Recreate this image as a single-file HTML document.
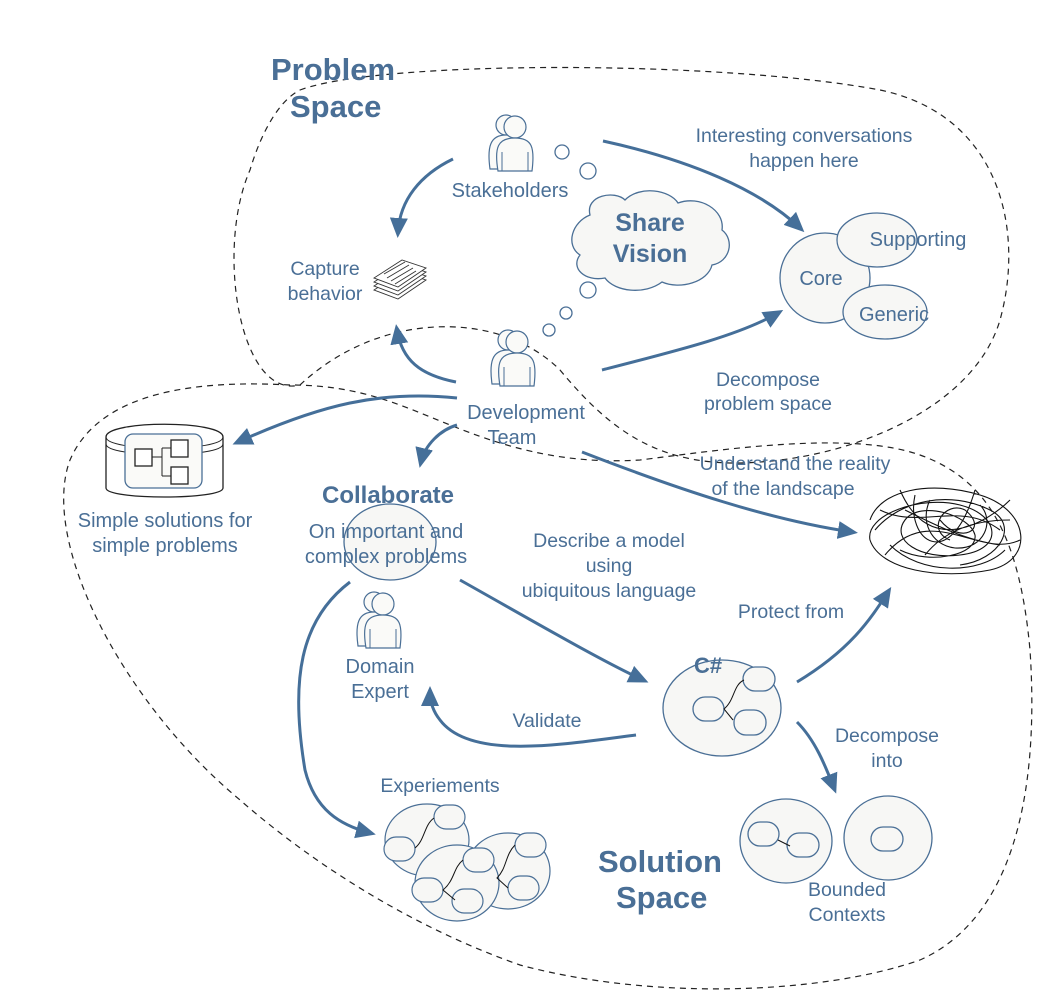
<!DOCTYPE html>
<html><head><meta charset="utf-8"><style>
html,body{margin:0;padding:0;background:#fff;}
svg{display:block;}
text{font-family:"Liberation Sans",sans-serif;fill:#4a6f96;}
</style></head><body>
<svg width="1064" height="1008" viewBox="0 0 1064 1008" xmlns="http://www.w3.org/2000/svg">
<defs>
<marker id="b" markerWidth="22" markerHeight="22" refX="14" refY="11" orient="auto" markerUnits="userSpaceOnUse" viewBox="0 0 22 22">
<path d="M0,2 L20,11 L0,20 z" fill="#456f99"/></marker>
<g id="person">
<circle cx="-6" cy="-22" r="10" fill="#fafaf8" stroke="#4a6f96" stroke-width="1.2"/>
<path d="M-22,22 C-25,0 -22,-12 -6,-12 C10,-12 13,0 10,22 Z" fill="#fafaf8" stroke="#4a6f96" stroke-width="1.2"/>
<circle cx="3" cy="-20" r="11" fill="#fafaf8" stroke="#4a6f96" stroke-width="1.2"/>
<path d="M-14,24 C-18,0 -14,-9 3,-9 C20,-9 23,0 20,24 Z" fill="#fafaf8" stroke="#4a6f96" stroke-width="1.2"/>
<path d="M-10,24 L-10,5 M16,24 L16,5" stroke="#4a6f96" fill="none"/>
</g>
</defs>
<g fill="none" stroke="#222" stroke-width="1.2" stroke-dasharray="6,5">
<path d="M300,90 C380,60 720,60 880,90 C1000,115 1025,230 1000,320 C975,405 860,455 760,462 C660,470 610,430 560,370 C500,310 380,310 300,385 C240,400 215,250 250,170 C262,130 280,100 300,90 Z"/>
<path d="M290,385 C200,380 100,390 70,460 C40,540 120,700 240,800 C320,870 420,930 520,965 C650,1000 820,995 920,960 C1010,920 1040,800 1030,650 C1020,540 990,480 920,455 C850,430 720,450 640,460 C560,465 500,445 450,425 C400,405 360,385 290,385 Z"/>
</g>
<text x="271" y="80" font-size="31" font-weight="bold">Problem</text>
<text x="290" y="117" font-size="31" font-weight="bold">Space</text>
<text x="598" y="872" font-size="31" font-weight="bold">Solution</text>
<text x="616" y="908" font-size="31" font-weight="bold">Space</text>

<use href="#person" x="512" y="147"/>
<text x="510" y="197" font-size="20" text-anchor="middle">Stakeholders</text>
<use href="#person" x="514" y="362"/>
<text x="526" y="419" font-size="20" text-anchor="middle">Development</text>
<text x="512" y="444" font-size="20" text-anchor="middle">Team</text>
<use href="#person" x="380" y="624"/>
<text x="380" y="673" font-size="20" text-anchor="middle">Domain</text>
<text x="380" y="698" font-size="20" text-anchor="middle">Expert</text>

<g fill="#fff" stroke="#4a6f96" stroke-width="1.3">
<circle cx="562" cy="152" r="7"/><circle cx="588" cy="171" r="8"/>
<circle cx="588" cy="290" r="8"/><circle cx="566" cy="313" r="6"/><circle cx="549" cy="330" r="6"/>
</g>
<path d="M590,215 C585,195 615,190 625,200 C640,185 670,190 678,203 C700,195 725,210 722,230 C735,240 730,262 712,265 C708,282 680,290 662,282 C645,295 615,292 605,278 C585,282 570,268 580,255 C565,245 572,222 590,215 Z" fill="#f7f7f5" stroke="#4a6f96" stroke-width="1.3"/>
<text x="650" y="231" font-size="25" font-weight="bold" text-anchor="middle">Share</text>
<text x="650" y="262" font-size="25" font-weight="bold" text-anchor="middle">Vision</text>

<text x="804" y="142" font-size="19.5" text-anchor="middle">Interesting conversations</text>
<text x="804" y="167" font-size="19.5" text-anchor="middle">happen here</text>
<text x="768" y="386" font-size="19.5" text-anchor="middle">Decompose</text>
<text x="768" y="410" font-size="19.5" text-anchor="middle">problem space</text>
<text x="325" y="275" font-size="19.5" text-anchor="middle">Capture</text>
<text x="325" y="300" font-size="19.5" text-anchor="middle">behavior</text>
<g fill="#fff" stroke="#333" stroke-width="0.9">
<path d="M374,290 L402,272 L426,280 L398,299 Z"/><path d="M374,286 L402,268 L426,276 L398,295 Z"/><path d="M374,282 L402,264 L426,272 L398,291 Z"/><path d="M374,278 L402,260 L426,268 L398,287 Z"/>
<path d="M384,274 L405,262 M387,278 L409,265 M391,281 L413,268 M395,284 L416,271" />
</g>

<g fill="#f7f7f5" stroke="#4a6f96" stroke-width="1.3">
<ellipse cx="825" cy="278" rx="45" ry="45"/>
<ellipse cx="877" cy="240" rx="40" ry="27"/>
<ellipse cx="885" cy="312" rx="42" ry="27"/>
</g>
<text x="821" y="285" font-size="20" text-anchor="middle">Core</text>
<text x="918" y="246" font-size="20" text-anchor="middle">Supporting</text>
<text x="894" y="321" font-size="20" text-anchor="middle">Generic</text>

<g fill="none" stroke="#456f99" stroke-width="3">
<path d="M453,159 C420,175 400,200 398,232" marker-end="url(#b)"/>
<path d="M603,141 C690,160 760,190 800,228" marker-end="url(#b)"/>
<path d="M602,370 C680,350 740,335 778,313" marker-end="url(#b)"/>
<path d="M456,382 C420,375 402,360 397,330" marker-end="url(#b)"/>
<path d="M457,398 C380,390 320,405 238,442" marker-end="url(#b)"/>
<path d="M457,425 C440,430 425,445 421,462" marker-end="url(#b)"/>
<path d="M582,452 C680,490 770,520 852,532" marker-end="url(#b)"/>
<path d="M460,580 C540,625 600,660 643,680" marker-end="url(#b)"/>
<path d="M636,735 C560,745 470,760 440,720 C432,710 430,700 430,692" marker-end="url(#b)"/>
<path d="M797,682 C850,650 870,620 888,592" marker-end="url(#b)"/>
<path d="M797,722 C815,740 825,765 834,788" marker-end="url(#b)"/>
<path d="M350,582 C300,620 290,680 305,770 C315,810 340,825 370,833" marker-end="url(#b)"/>
</g>

<g>
<path d="M106,437 C106,420 223,420 223,437 L223,488 C223,500 106,500 106,488 Z" fill="#fff" stroke="#222" stroke-width="1.3"/>
<path d="M106,437 C106,452 223,452 223,437 M106,444 C106,458 223,458 223,444" fill="none" stroke="#222"/>
<rect x="125" y="434" width="77" height="54" rx="8" fill="#fafaf8" stroke="#4a6f96" stroke-width="1.3"/>
<g fill="#fff" stroke="#222" stroke-width="1.3">
<rect x="135" y="449" width="17" height="17"/><rect x="171" y="440" width="17" height="17"/><rect x="171" y="467" width="17" height="17"/>
</g>
<path d="M152,457 L162,457 M162,448 L162,476 M162,448 L171,448 M162,476 L171,476" stroke="#222" fill="none"/>
</g>
<text x="165" y="527" font-size="20" text-anchor="middle">Simple solutions for</text>
<text x="165" y="552" font-size="20" text-anchor="middle">simple problems</text>

<ellipse cx="390" cy="542" rx="46" ry="38" fill="#f7f7f5" stroke="#4a6f96" stroke-width="1.3"/>
<text x="388" y="503" font-size="24" font-weight="bold" text-anchor="middle">Collaborate</text>
<text x="386" y="538" font-size="20" text-anchor="middle">On important and</text>
<text x="386" y="563" font-size="20" text-anchor="middle">complex problems</text>
<text x="609" y="547" font-size="19.5" text-anchor="middle">Describe a model</text>
<text x="609" y="572" font-size="19.5" text-anchor="middle">using</text>
<text x="609" y="597" font-size="19.5" text-anchor="middle">ubiquitous language</text>
<text x="547" y="727" font-size="19.5" text-anchor="middle">Validate</text>
<text x="791" y="618" font-size="19.5" text-anchor="middle">Protect from</text>
<text x="887" y="742" font-size="19.5" text-anchor="middle">Decompose</text>
<text x="887" y="767" font-size="19.5" text-anchor="middle">into</text>
<text x="795" y="470" font-size="19.5" text-anchor="middle">Understand the reality</text>
<text x="783" y="495" font-size="19.5" text-anchor="middle">of the landscape</text>
<text x="440" y="792" font-size="19.5" text-anchor="middle">Experiements</text>
<text x="847" y="896" font-size="19.5" text-anchor="middle">Bounded</text>
<text x="847" y="921" font-size="19.5" text-anchor="middle">Contexts</text>

<g fill="none" stroke="#111" stroke-width="1.1">
<path d="M870,520 C880,490 930,480 980,495 C1030,510 1035,560 990,570 C940,580 880,570 870,540 C865,515 920,495 960,505 C1000,515 1005,550 960,555 C920,560 890,540 905,520 C920,500 970,515 975,535 C978,555 930,565 900,550 M880,510 C920,530 960,500 1000,530 M900,490 C930,560 990,520 1010,500 M885,555 C930,500 980,560 1020,540 M915,495 C905,540 950,575 975,490 M940,520 C960,545 990,530 965,510 C945,500 925,530 950,540 M875,530 C900,500 950,490 990,510 C1020,525 1000,560 960,565 M890,545 C920,575 980,575 1005,550 M930,500 C920,520 930,545 955,548 C985,550 995,520 980,505 M905,510 C935,525 965,540 1000,545 M925,555 C945,530 975,520 1010,520"/>
</g>

<g fill="#f7f7f5" stroke="#4a6f96" stroke-width="1.3">
<ellipse cx="722" cy="708" rx="59" ry="48"/>
<rect x="743" y="667" width="32" height="24" rx="12"/>
<rect x="693" y="697" width="31" height="24" rx="12"/>
<rect x="734" y="710" width="32" height="25" rx="12"/>
</g>
<path d="M744,680 C733,685 735,700 724,709 L733,720" fill="none" stroke="#111"/>
<text x="708" y="673" font-size="22" font-weight="bold" text-anchor="middle">C#</text>

<g fill="#f7f7f5" stroke="#4a6f96" stroke-width="1.3">
<ellipse cx="786" cy="841" rx="46" ry="42"/>
<rect x="748" y="822" width="31" height="24" rx="12"/>
<rect x="787" y="833" width="32" height="24" rx="12"/>
<ellipse cx="888" cy="838" rx="44" ry="42"/>
<rect x="871" y="827" width="32" height="24" rx="12"/>
</g>
<path d="M778,840 L790,846" stroke="#111"/>

<g fill="#f7f7f5" stroke="#4a6f96" stroke-width="1.2">
<ellipse cx="427" cy="840" rx="42" ry="36"/>
<rect x="434" y="805" width="31" height="24" rx="12"/>
<rect x="384" y="837" width="31" height="24" rx="12"/>
<ellipse cx="508" cy="871" rx="42" ry="38"/>
<rect x="515" y="833" width="31" height="24" rx="12"/>
<rect x="508" y="876" width="31" height="24" rx="12"/>
<ellipse cx="457" cy="883" rx="42" ry="38"/>
<rect x="463" y="848" width="31" height="24" rx="12"/>
<rect x="412" y="878" width="31" height="24" rx="12"/>
<rect x="452" y="889" width="31" height="24" rx="12"/>
</g>
<path d="M434,818 C424,825 425,840 415,848 M463,860 C453,868 455,880 443,890 L455,900 M515,845 C505,855 507,868 497,878 L508,888" fill="none" stroke="#111"/>
</svg>
</body></html>
